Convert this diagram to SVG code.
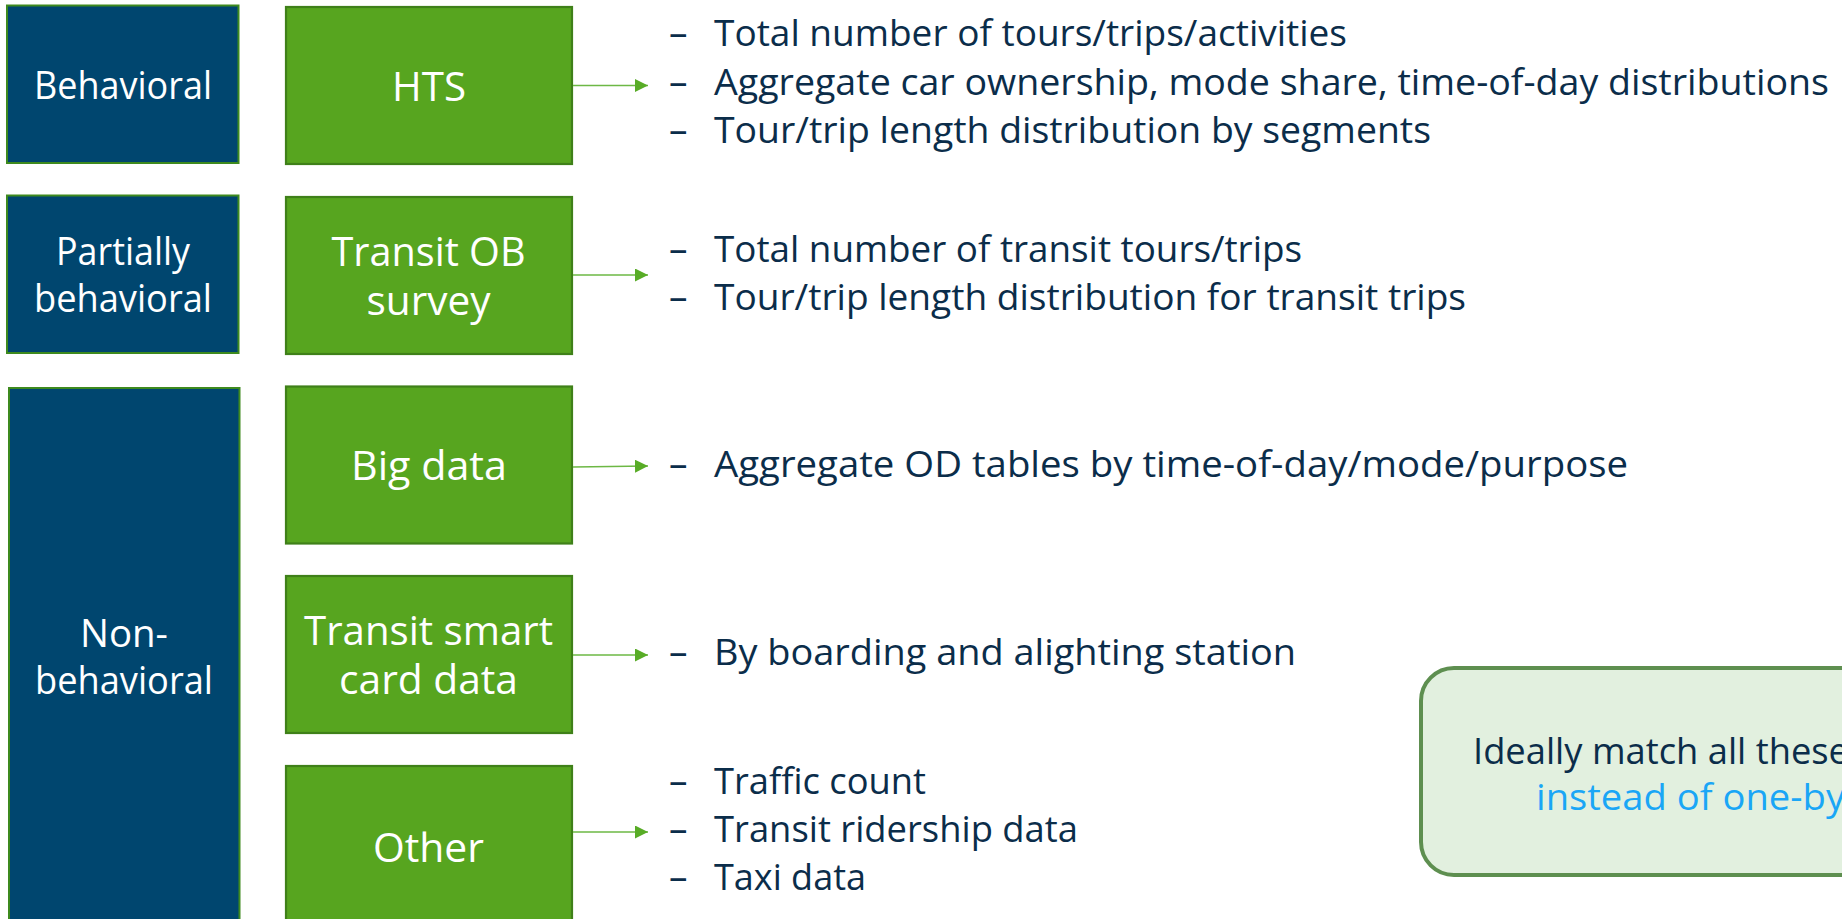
<svg xmlns="http://www.w3.org/2000/svg" width="1842" height="919" viewBox="0 0 1842 919">
  <defs>
    <marker id="arrowhead" markerUnits="userSpaceOnUse" markerWidth="13" markerHeight="13" viewBox="0 0 12 12" refX="12" refY="6" orient="auto">
      <path d="M0,0 L12,6 L0,12 Z" fill="#58AC26"/>
    </marker>
    <style>
      .cat rect { fill: #00466F; stroke: #3E8A1E; stroke-width: 2; }
      .src rect { fill: #57A51F; stroke: #3F8019; stroke-width: 2.2; }
      .cat text, .src text { font-family: "Open Sans", "Noto Sans", sans-serif; fill: #FFFFFF; text-anchor: middle; }
      .cat text { font-size: 38px; }
      .src text { font-size: 40px; }
      .items text { font-family: "Open Sans", "Noto Sans", sans-serif; font-size: 37px; fill: #0B2D4A; }
      .links line { stroke: #6DB845; stroke-width: 1.5; marker-end: url(#arrowhead); }
      .note rect { fill: #E2F0DF; stroke: #5E8F50; stroke-width: 4; }
      .note text { font-family: "Open Sans", "Noto Sans", sans-serif; font-size: 37px; }
    </style>
  </defs>

  <rect x="0" y="0" width="1842" height="919" fill="#FFFFFF"/>

  <!-- category column -->
  <g id="cat-behavioral" class="cat">
    <rect x="7" y="5.5" width="231.5" height="157.5"/>
    <text x="123" y="98.5" textLength="178" lengthAdjust="spacingAndGlyphs">Behavioral</text>
  </g>
  <g id="cat-partial" class="cat">
    <rect x="7" y="195.5" width="231.5" height="157.5"/>
    <text><tspan x="123" y="265" textLength="134" lengthAdjust="spacingAndGlyphs">Partially</tspan><tspan x="123" y="311.5" textLength="178" lengthAdjust="spacingAndGlyphs">behavioral</tspan></text>
  </g>
  <g id="cat-nonbehavioral" class="cat">
    <rect x="9" y="388" width="230.5" height="540"/>
    <text><tspan x="124" y="647" textLength="88" lengthAdjust="spacingAndGlyphs">Non-</tspan><tspan x="124" y="694" textLength="178" lengthAdjust="spacingAndGlyphs">behavioral</tspan></text>
  </g>

  <!-- data source column -->
  <g id="src-hts" class="src">
    <rect x="286" y="7" width="286" height="157"/>
    <text x="429" y="100.5" textLength="74" lengthAdjust="spacingAndGlyphs">HTS</text>
  </g>
  <g id="src-transit-ob" class="src">
    <rect x="286" y="197" width="286" height="157"/>
    <text><tspan x="428.5" y="265.5" textLength="194" lengthAdjust="spacingAndGlyphs">Transit OB</tspan><tspan x="428.5" y="314.5" textLength="124" lengthAdjust="spacingAndGlyphs">survey</tspan></text>
  </g>
  <g id="src-big-data" class="src">
    <rect x="286" y="386.5" width="286" height="157"/>
    <text x="429" y="479.5" textLength="156" lengthAdjust="spacingAndGlyphs">Big data</text>
  </g>
  <g id="src-smart-card" class="src">
    <rect x="286" y="576" width="286" height="157"/>
    <text><tspan x="428.5" y="645" textLength="249" lengthAdjust="spacingAndGlyphs">Transit smart</tspan><tspan x="428.5" y="694" textLength="179" lengthAdjust="spacingAndGlyphs">card data</tspan></text>
  </g>
  <g id="src-other" class="src">
    <rect x="286" y="766" width="286" height="160"/>
    <text x="428.5" y="861.5" textLength="111" lengthAdjust="spacingAndGlyphs">Other</text>
  </g>

  <!-- connectors -->
  <g id="connectors" class="links">
    <line x1="573" y1="85.5" x2="648" y2="85.5"/>
    <line x1="573" y1="275" x2="648" y2="275"/>
    <line x1="573" y1="467" x2="648" y2="466"/>
    <line x1="573" y1="655" x2="648" y2="655"/>
    <line x1="573" y1="832" x2="648" y2="832"/>
  </g>

  <!-- calibration targets per source -->
  <g id="items-hts" class="items">
    <text x="669" y="46">–</text>
    <text x="714" y="46" textLength="633" lengthAdjust="spacingAndGlyphs">Total number of tours/trips/activities</text>
    <text x="669" y="94.5">–</text>
    <text x="714" y="94.5" textLength="1115" lengthAdjust="spacingAndGlyphs">Aggregate car ownership, mode share, time-of-day distributions</text>
    <text x="669" y="142.5">–</text>
    <text x="714" y="142.5" textLength="717" lengthAdjust="spacingAndGlyphs">Tour/trip length distribution by segments</text>
  </g>
  <g id="items-transit-ob" class="items">
    <text x="669" y="262">–</text>
    <text x="714" y="262" textLength="588" lengthAdjust="spacingAndGlyphs">Total number of transit tours/trips</text>
    <text x="669" y="310">–</text>
    <text x="714" y="310" textLength="752" lengthAdjust="spacingAndGlyphs">Tour/trip length distribution for transit trips</text>
  </g>
  <g id="items-big-data" class="items">
    <text x="669" y="477">–</text>
    <text x="714" y="477" textLength="914" lengthAdjust="spacingAndGlyphs">Aggregate OD tables by time-of-day/mode/purpose</text>
  </g>
  <g id="items-smart-card" class="items">
    <text x="669" y="665">–</text>
    <text x="714" y="665" textLength="582" lengthAdjust="spacingAndGlyphs">By boarding and alighting station</text>
  </g>
  <g id="items-other" class="items">
    <text x="669" y="794">–</text>
    <text x="714" y="794" textLength="212" lengthAdjust="spacingAndGlyphs">Traffic count</text>
    <text x="669" y="842">–</text>
    <text x="714" y="842" textLength="364" lengthAdjust="spacingAndGlyphs">Transit ridership data</text>
    <text x="669" y="890">–</text>
    <text x="714" y="890" textLength="152" lengthAdjust="spacingAndGlyphs">Taxi data</text>
  </g>

  <!-- note box -->
  <g id="note" class="note">
    <rect x="1421" y="668" width="520" height="207" rx="33" ry="33"/>
    <text x="1473" y="763.5" fill="#0B2D4A" textLength="376" lengthAdjust="spacingAndGlyphs">Ideally match all these</text>
    <text x="1536" y="810" fill="#1AA6F6" textLength="309" lengthAdjust="spacingAndGlyphs">instead of one-by</text>
  </g>
</svg>
